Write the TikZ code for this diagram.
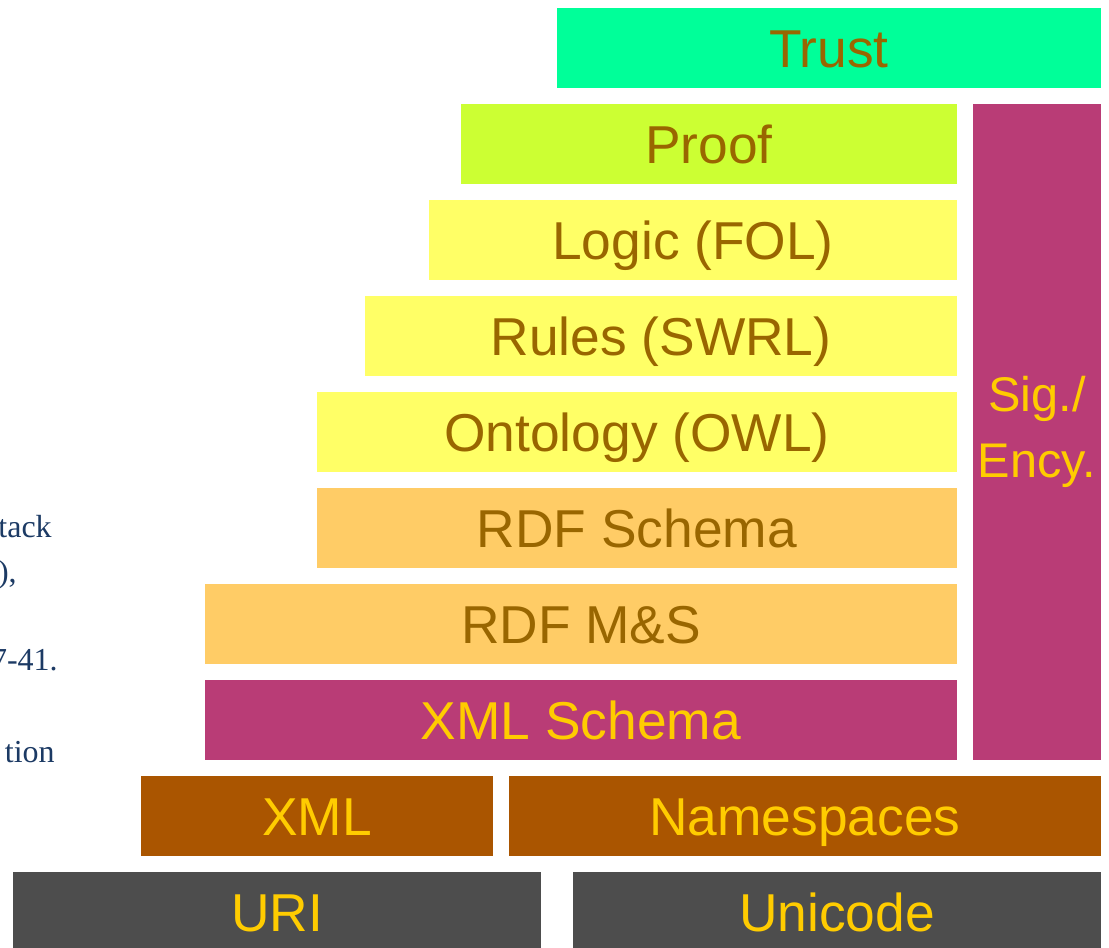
\documentclass[tikz,border=0pt]{standalone}
\usepackage{fontspec}
\setmainfont{Liberation Serif}
\setsansfont{Liberation Sans}
\usetikzlibrary{positioning}

\definecolor{trustgreen}{HTML}{00FF99}
\definecolor{proofgreen}{HTML}{CCFF33}
\definecolor{logicyellow}{HTML}{FFFF66}
\definecolor{rdforange}{HTML}{FFCC66}
\definecolor{schemapink}{HTML}{B93C76}
\definecolor{xmlbrown}{HTML}{AA5500}
\definecolor{basegrey}{HTML}{4D4D4D}
\definecolor{darktext}{HTML}{996600}
\definecolor{lighttext}{HTML}{FFCC00}
\definecolor{notenavy}{RGB}{28,58,100}

\tikzset{
  layer/.style={
    rectangle,
    draw=none,
    inner sep=0pt,
    minimum height=60pt,
    text height=28.6pt,
    text depth=0pt,
    font=\sffamily\fontsize{40}{44}\selectfont},
  upper/.style={layer, text=darktext},
  lower/.style={layer, text=lighttext},
  note/.style={
    anchor=base east,
    inner sep=0pt,
    text=notenavy,
    font=\rmfamily\fontsize{24}{28}\selectfont},
}

\begin{document}
\begin{tikzpicture}[x=0.75pt, y=-0.75pt]
\useasboundingbox (0,0) rectangle (1109,947);
\clip (0,0) rectangle (1109,947);

% text of the neighbouring column
\node[note] (n1) at (52,537) {tack};
\node[note] (n2) at (17,582) {),};
\node[note] (n3) at (58,670) {7-41.};
\node[note] (n4) at (55,762) {tion};

% the stack, top to bottom
\node[upper, fill=trustgreen, minimum width=408pt] (trust) at (829,48) {Trust};
\node[upper, fill=proofgreen, minimum width=372pt] (proof) at (709,144) {Proof};
\node[upper, fill=logicyellow, minimum width=396pt] (logic) at (693,240) {Logic (FOL)};
\node[upper, fill=logicyellow, minimum width=444pt] (rules) at (661,336) {Rules (SWRL)};
\node[upper, fill=logicyellow, minimum width=480pt] (owl) at (637,432) {Ontology (OWL)};
\node[upper, fill=rdforange, minimum width=480pt] (rdfs) at (637,528) {RDF Schema};
\node[upper, fill=rdforange, minimum width=564pt] (rdfms) at (581,624) {RDF M\&S};
\node[lower, fill=schemapink, minimum width=564pt] (xmls) at (581,720) {XML Schema};
\node[lower, fill=schemapink, minimum width=96pt, minimum height=492pt, align=center,
  text height=, text depth=, font=\sffamily\fontsize{36.5}{49.5}\selectfont] (sig) at (1037,432) {Sig./\\Ency.};
\node[lower, fill=xmlbrown, minimum width=264pt] (xml) at (317,816) {XML};
\node[lower, fill=xmlbrown, minimum width=444pt] (ns) at (805,816) {Namespaces};
\node[lower, fill=basegrey, minimum width=396pt] (uri) at (277,912) {URI};
\node[lower, fill=basegrey, minimum width=396pt] (unicode) at (837,912) {Unicode};

\end{tikzpicture}
\end{document}
